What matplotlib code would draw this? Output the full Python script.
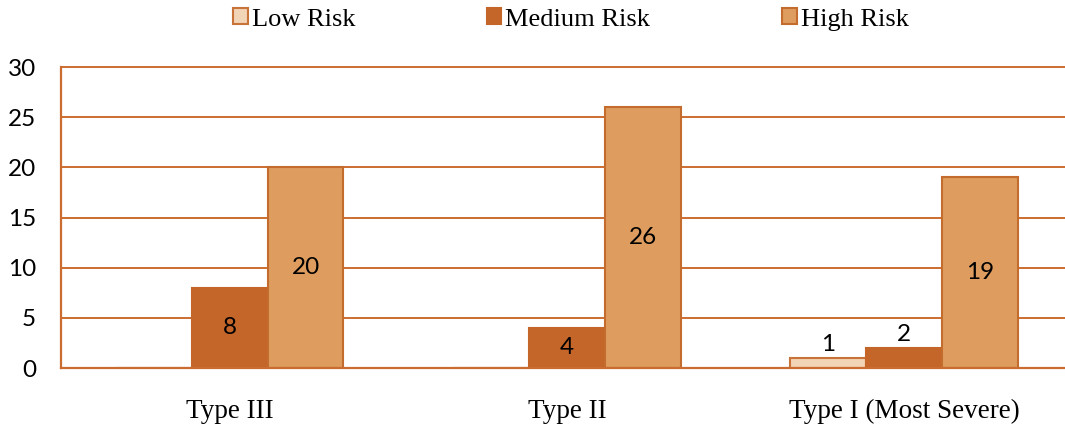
import numpy as np
import matplotlib.pyplot as plt
from matplotlib.patches import Patch

# categories and counts per risk level
categories = ['Type III', 'Type II', 'Type I (Most Severe)']
series_names = ['Low Risk', 'Medium Risk', 'High Risk']
low_risk = [0, 0, 1]
medium_risk = [8, 4, 2]
high_risk = [20, 26, 19]
y_ticks = [0, 5, 10, 15, 20, 25, 30]

fills = ['#F2D4B6', '#C4652A', '#DE9D5F']
edges = ['#C8733A', '#C4652A', '#C46C2E']
line_col = '#CB6D30'

fig = plt.figure(figsize=(10.65, 4.25), dpi=100)
# right edge runs a little past the canvas, so the grid reaches the border
ax = fig.add_axes([0.0573, 0.134, 0.950, 0.708])

x = np.arange(len(categories))
width = 0.225
for i, (name, vals) in enumerate(zip(series_names, [low_risk, medium_risk, high_risk])):
    pos = x + (i - 1) * width
    ax.bar(pos, vals, width, color=fills[i], edgecolor=edges[i], linewidth=1.5,
           zorder=3, label=name)
    for px, v in zip(pos, vals):
        if v == 0:
            continue
        if v < 3:
            # too short for the number, put it on top
            ax.text(px, v + 0.3, str(v), ha='center', va='bottom',
                    fontsize=17.5, family='Lato', zorder=4)
        else:
            ax.text(px, v / 2, str(v), ha='center', va='center',
                    fontsize=17.5, family='Lato', zorder=4)

ax.set_xlim(-0.5, 2.5)
ax.set_ylim(0, 30)
ax.set_yticks(y_ticks)
ax.set_xticks(x)
ax.set_xticklabels(categories, family='Liberation Serif', fontsize=19.5)
for lbl in ax.get_yticklabels():
    lbl.set_family('Lato')
    lbl.set_fontsize(17.5)
ax.tick_params(axis='y', length=0, pad=18)
ax.tick_params(axis='x', length=0, pad=22)

ax.yaxis.grid(True, color=line_col, linewidth=1.4, zorder=0)
for gl in ax.get_ygridlines():
    gl.set_clip_on(False)
ax.set_axisbelow(True)
for s in ['top', 'right']:
    ax.spines[s].set_visible(False)
for s in ['left', 'bottom']:
    ax.spines[s].set_color(line_col)
    ax.spines[s].set_linewidth(1.6)
ax.spines['bottom'].set_zorder(5)

handles = [Patch(facecolor=f, edgecolor=e, linewidth=1.5) for f, e in zip(fills, edges)]
fig.legend(handles, series_names, loc='center', bbox_to_anchor=(0.536, 0.954),
           ncol=3, frameon=False, prop={'family': 'Liberation Serif', 'size': 19},
           handlelength=0.55, handleheight=0.55, handletextpad=0.15,
           columnspacing=5.0)

fig.savefig('out.png', dpi=100)
